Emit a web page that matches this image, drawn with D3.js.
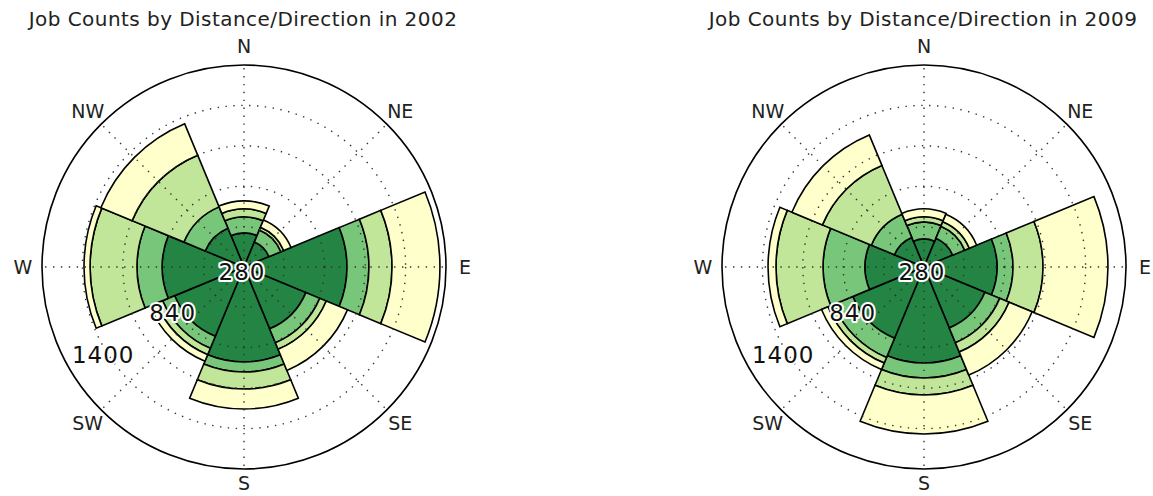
<!DOCTYPE html>
<html>
<head>
<meta charset="utf-8">
<script src="https://cdnjs.cloudflare.com/ajax/libs/d3/7.8.5/d3.min.js"></script>
<style>
body { margin: 0; background: #fff; }
svg { display: block; font-family: "DejaVu Sans", sans-serif; }
</style>
</head>
<body>
<svg id="chart" width="1153" height="496"></svg>
<script>
'use strict';

/* global d3 */

var directions = ["N", "NE", "E", "SE", "S", "SW", "W", "NW"];
var distances = ["Less than 10 miles", "10 to 24 miles", "25 to 50 miles", "Greater than 50 miles"];
var colors = ["#238443", "#78c679", "#c2e699", "#ffffcc"];
var radialLabels = [280, 840, 1400];
var gridValues = [560, 840, 1120, 1400];

// job counts for each direction (N, NE, E, SE, S, SW, W, NW), one array per distance band
var jobs2002Under10 = [516, 467, 994, 744, 938, 800, 848, 571];
var jobs2002TenTo24 = [111, 90, 152, 104, 70, 90, 174, 160];
var jobs2002TwentyFiveTo50 = [55, 21, 160, 49, 118, 48, 325, 388];
var jobs2002Over50 = [55, 55, 332, 159, 138, 49, 42, 235];

var jobs2009Under10 = [474, 495, 786, 737, 945, 814, 689, 502];
var jobs2009TenTo24 = [118, 90, 111, 111, 104, 145, 291, 173];
var jobs2009TwentyFiveTo50 = [35, 35, 208, 70, 118, 42, 326, 367];
var jobs2009Over50 = [55, 55, 450, 173, 270, 48, 55, 229];

var R = 202;
var svg = d3.select("#chart");

var r = d3.scaleLinear()
    .domain([280, 1680])
    .range([0, R])
    .clamp(true);

function rad(deg) {
    return deg * Math.PI / 180;
}

// the S label sits right at the bottom edge, pull it in a little so it stays on the page
function dirRadius(d) {
    return d === "S" ? 216 : 221;
}

function drawRose(cx, cy, year, series) {
    var rows = directions.map(function(dir, i) {
        var row = {dir: dir, angle: i * 45};
        distances.forEach(function(key, j) {
            row[key] = series[j][i];
        });
        return row;
    });

    var stacked = d3.stack().keys(distances)(rows);

    var arc = d3.arc()
        .innerRadius(function(d) { return r(d[0]); })
        .outerRadius(function(d) { return r(d[1]); })
        .startAngle(function(d) { return rad(d.data.angle - 22.5); })
        .endAngle(function(d) { return rad(d.data.angle + 22.5); });

    svg.append("text")
        .attr("x", cx - 1)
        .attr("y", 26)
        .attr("text-anchor", "middle")
        .style("font-size", "20px")
        .style("letter-spacing", "0.45px")
        .style("fill", "#222")
        .text("Job Counts by Distance/Direction in " + year);

    var g = svg.append("g")
        .attr("transform", "translate(" + cx + "," + cy + ")");

    g.selectAll("g.band")
        .data(stacked)
        .enter()
        .append("g")
        .attr("class", "band")
        .attr("fill", function(d, i) { return colors[i]; })
        .selectAll("path")
        .data(function(d) { return d; })
        .enter()
        .append("path")
        .attr("d", arc)
        .attr("stroke", "#000")
        .attr("stroke-width", 1.6)
        .attr("stroke-linejoin", "miter");

    // dotted grid sits on top of the bars
    g.selectAll("circle.grid")
        .data(gridValues)
        .enter()
        .append("circle")
        .attr("class", "grid")
        .attr("r", function(d) { return r(d); })
        .attr("fill", "none")
        .attr("stroke", "#333")
        .attr("stroke-width", 1.4)
        .attr("stroke-dasharray", "1.4,6.5");

    g.selectAll("line.spoke")
        .data(directions)
        .enter()
        .append("line")
        .attr("class", "spoke")
        .attr("x1", 0)
        .attr("y1", 0)
        .attr("x2", function(d, i) { return R * Math.sin(rad(i * 45)); })
        .attr("y2", function(d, i) { return -R * Math.cos(rad(i * 45)); })
        .attr("stroke", "#333")
        .attr("stroke-width", 1.4)
        .attr("stroke-dasharray", "1.4,6.5");

    g.append("circle")
        .attr("r", R)
        .attr("fill", "none")
        .attr("stroke", "#000")
        .attr("stroke-width", 1.6);

    g.selectAll("text.dir")
        .data(directions)
        .enter()
        .append("text")
        .attr("class", "dir")
        .attr("x", function(d, i) { return dirRadius(d) * Math.sin(rad(i * 45)); })
        .attr("y", function(d, i) { return -dirRadius(d) * Math.cos(rad(i * 45)); })
        .attr("text-anchor", "middle")
        .attr("dominant-baseline", "central")
        .style("font-size", "19px")
        .style("fill", "#222")
        .text(function(d) { return d; });

    var labelAngle = rad(180 + 30.8);
    g.selectAll("text.rlabel")
        .data(radialLabels)
        .enter()
        .append("text")
        .attr("class", "rlabel")
        .attr("x", function(d) { return r(d) * Math.cos(labelAngle) - 2; })
        .attr("y", function(d) { return -r(d) * Math.sin(labelAngle) + 5; })
        .attr("text-anchor", "middle")
        .attr("dominant-baseline", "central")
        .style("font-size", "23px")
        .style("letter-spacing", "1px")
        .style("fill", "#111")
        .style("stroke", "#fff")
        .style("stroke-width", 4)
        .style("paint-order", "stroke")
        .style("stroke-linejoin", "round")
        .text(function(d) { return d; });
}

drawRose(244, 267, "2002", [jobs2002Under10, jobs2002TenTo24, jobs2002TwentyFiveTo50, jobs2002Over50]);
drawRose(924, 267, "2009", [jobs2009Under10, jobs2009TenTo24, jobs2009TwentyFiveTo50, jobs2009Over50]);
</script>
</body>
</html>
